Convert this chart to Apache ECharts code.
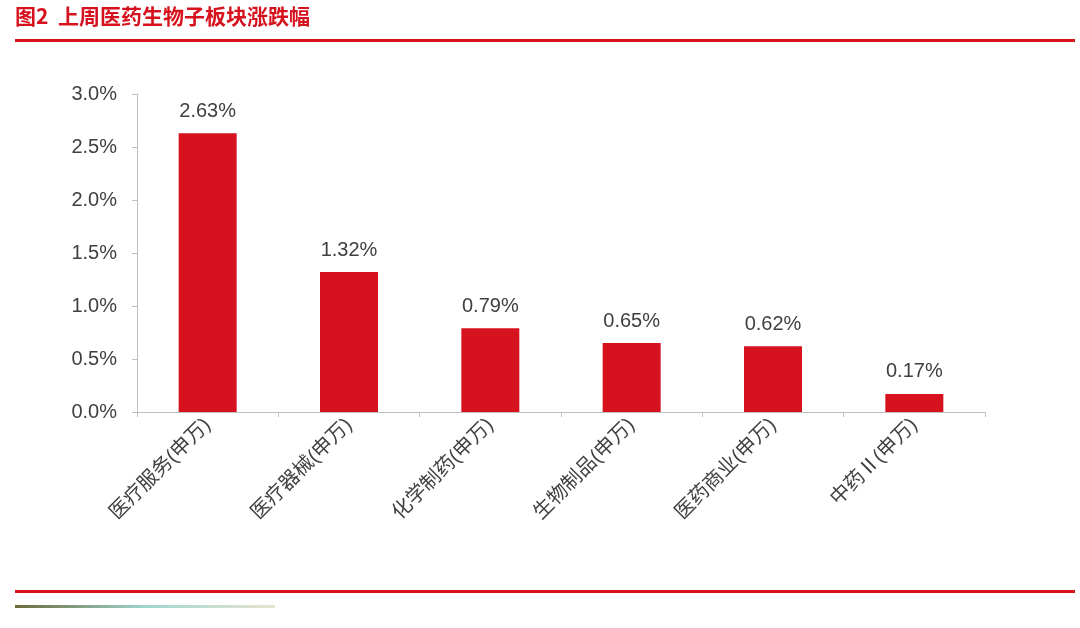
<!DOCTYPE html>
<html>
<head>
<meta charset="utf-8">
<script src="https://cdn.jsdelivr.net/npm/echarts@6/dist/echarts.min.js"></script>
<style>html,body{margin:0;padding:0;background:#fff}#chart{width:1080px;height:628px}</style>
</head>
<body>
<div id="chart"></div>
<script>
var categories = ['医疗服务(申万)', '医疗器械(申万)', '化学制药(申万)', '生物制品(申万)', '医药商业(申万)', '中药Ⅱ(申万)'];
var values = [2.63, 1.32, 0.79, 0.65, 0.62, 0.17];
var titleText = '图2  上周医药生物子板块涨跌幅';

var chart = echarts.init(document.getElementById('chart'));
var font = '"Liberation Sans", "Noto Sans CJK SC", sans-serif';
chart.setOption({
	textStyle: { fontFamily: font },
	graphic: [
		{ type: 'text', left: 15, top: 6, style: { text: titleText, fill: '#d7121f', font: 'bold 21px "Noto Sans CJK SC", sans-serif' } },
		{ type: 'rect', shape: { x: 15, y: 39, width: 1060, height: 3 }, style: { fill: '#d7121f' } },
		{ type: 'rect', shape: { x: 15, y: 590, width: 1060, height: 3 }, style: { fill: '#d7121f' } },
		{ type: 'rect', shape: { x: 15, y: 605, width: 260, height: 3 }, style: {
			fill: new echarts.graphic.LinearGradient(0, 0, 1, 0, [
				{ offset: 0, color: '#6b6a3a' }, { offset: 0.5, color: '#9fd6cf' }, { offset: 1, color: '#e8e4d0' }
			]) } }
	],
	grid: { left: 137, right: 95, top: 94, bottom: 216 },
	xAxis: {
		type: 'category',
		data: categories,
		axisLine: { lineStyle: { color: '#bfbfbf' } },
		axisTick: { show: true, lineStyle: { color: '#bfbfbf' } },
		axisLabel: { rotate: 45, color: '#404040', fontSize: 20, margin: 10, interval: 0 }
	},
	yAxis: {
		type: 'value',
		min: 0, max: 3, interval: 0.5,
		axisLine: { show: true, lineStyle: { color: '#bfbfbf' } },
		axisTick: { show: true, lineStyle: { color: '#bfbfbf' } },
		splitLine: { show: false },
		axisLabel: { color: '#404040', fontSize: 20, margin: 20, formatter: function(v) { return v.toFixed(1) + '%'; } }
	},
	series: [{
		type: 'bar',
		data: values,
		barWidth: 58,
		itemStyle: { color: '#d7121f' },
		label: { show: true, position: 'top', distance: 12, color: '#404040', fontSize: 20,
			formatter: function(p) { return p.value.toFixed(2) + '%'; } }
	}]
});
</script>
</body>
</html>
